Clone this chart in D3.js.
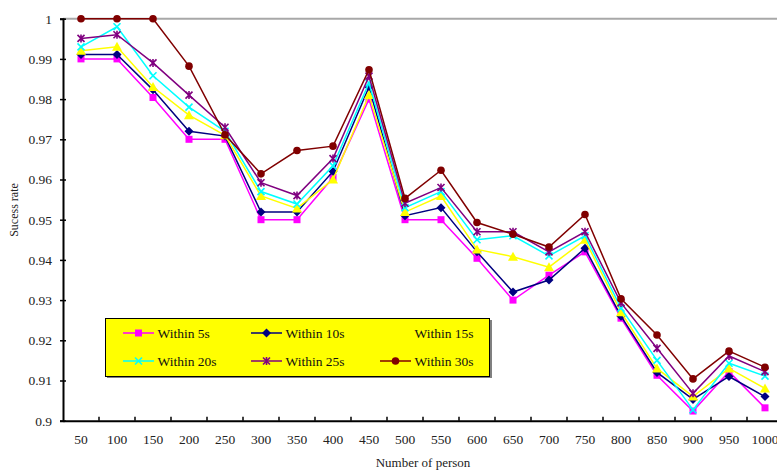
<!DOCTYPE html>
<html><head><meta charset="utf-8">
<script src="https://cdn.jsdelivr.net/npm/d3@7"></script>
<style>body{margin:0;background:#fff}svg{display:block}text{font-family:"Liberation Serif","Times New Roman",serif}</style>
</head><body><svg id="c" width="777" height="470"></svg>
<script>
const categories = [50,100,150,200,250,300,350,400,450,500,550,600,650,700,750,800,850,900,950,1000];
const yTicks = [0.9,0.91,0.92,0.93,0.94,0.95,0.96,0.97,0.98,0.99,1];
const seriesNames = ["Within 5s","Within 10s","Within 15s","Within 20s","Within 25s","Within 30s"];
const within5  = [0.990,0.990,0.9804,0.970,0.970,0.950,0.950,0.9605,0.980,0.950,0.950,0.9404,0.930,0.9362,0.942,0.9255,0.9113,0.9024,0.9122,0.9032];
const within10 = [0.9911,0.9911,0.9823,0.972,0.9708,0.9519,0.9519,0.962,0.983,0.951,0.953,0.942,0.932,0.935,0.9429,0.926,0.912,0.9053,0.911,0.906];
const within15 = [0.992,0.993,0.983,0.976,0.971,0.9559,0.9528,0.960,0.981,0.9519,0.9559,0.9426,0.9408,0.9382,0.945,0.927,0.913,0.906,0.913,0.908];
const within20 = [0.993,0.998,0.9858,0.978,0.972,0.957,0.9539,0.9634,0.984,0.953,0.957,0.945,0.946,0.941,0.946,0.928,0.915,0.9027,0.9143,0.9111];
const within25 = [0.9951,0.996,0.989,0.981,0.973,0.9592,0.956,0.9652,0.9857,0.9541,0.958,0.947,0.947,0.942,0.947,0.9293,0.918,0.9068,0.9161,0.9122];
const within30 = [1,1,1,0.9882,0.9711,0.9614,0.9672,0.9683,0.9873,0.9553,0.9623,0.9493,0.9464,0.9432,0.9513,0.9303,0.9213,0.9104,0.9173,0.9133];
const seriesValues = [within5,within10,within15,within20,within25,within30];
const colors = ["#FF00FF","#000080","#FFFF00","#00FFFF","#800080","#800000"];
const markers = ["square","diamond","triangle","x","star","circle"];

const svg = d3.select("#c");
const L = 63, T = 18.7, B = 420.7, R = 783;
const x = d3.scaleBand().domain(categories).range([L, R]);
const y = d3.scaleLinear().domain([0.9, 1]).range([B, T]);

// top gridline
svg.append("line").attr("x1", L).attr("x2", 777).attr("y1", y(1)).attr("y2", y(1))
  .attr("stroke", "#a8a8a8").attr("stroke-width", 2);

// y axis
const ya = svg.append("g").attr("transform", `translate(${L},0)`)
  .call(d3.axisLeft(y).tickValues(yTicks).tickSize(3).tickPadding(8).tickFormat(d => d3.format("")(+d.toFixed(2))));
ya.select(".domain").attr("stroke", "#000").attr("stroke-width", 2);
ya.selectAll(".tick line").attr("stroke", "#000").attr("stroke-width", 1.5).attr("x2", 3).attr("x1", -3);
ya.selectAll("text").attr("font-size", 13.5).attr("fill", "#222").attr("font-family", "Liberation Serif");

// x axis
const xa = svg.append("g").attr("transform", `translate(0,${B})`)
  .call(d3.axisBottom(x).tickSize(0).tickPadding(14));
xa.select(".domain").attr("stroke", "#000").attr("stroke-width", 2);
xa.selectAll("text").attr("font-size", 13.5).attr("fill", "#222").attr("font-family", "Liberation Serif");
const bw = x.bandwidth();
xa.selectAll(".sep").data(categories.slice(1)).enter().append("line")
  .attr("x1", d => x(d)).attr("x2", d => x(d)).attr("y1", 0).attr("y2", -4)
  .attr("stroke", "#000").attr("stroke-width", 1.5);

// titles
svg.append("text").attr("x", 423).attr("y", 467).attr("text-anchor", "middle")
  .attr("font-size", 13).attr("fill", "#222").text("Number of person");
svg.append("text").attr("transform", "translate(18,210) rotate(-90)").attr("text-anchor", "middle")
  .attr("font-size", 12).attr("fill", "#222").text("Sucess rate");

function drawMarker(g, type, color) {
  if (type === "square") g.append("rect").attr("x", -3.5).attr("y", -3.5).attr("width", 7).attr("height", 7).attr("fill", color);
  else if (type === "diamond") g.append("path").attr("d", "M0,-4.5L4.5,0L0,4.5L-4.5,0Z").attr("fill", color);
  else if (type === "triangle") g.append("path").attr("d", "M0,-5L5,4L-5,4Z").attr("fill", color);
  else if (type === "circle") g.append("circle").attr("r", 3.8).attr("fill", color);
  else if (type === "x") g.append("path").attr("d", "M-3.5,-3.5L3.5,3.5M-3.5,3.5L3.5,-3.5").attr("stroke", color).attr("stroke-width", 1.6);
  else if (type === "star") g.append("path").attr("d", "M-3.5,-3.5L3.5,3.5M-3.5,3.5L3.5,-3.5M0,-4L0,4").attr("stroke", color).attr("stroke-width", 1.6);
}

const cx = d => x(d) + bw / 2;
const line = d3.line().x((v, i) => cx(categories[i])).y(v => y(v));
seriesValues.forEach((vals, s) => {
  const g = svg.append("g");
  g.append("path").attr("d", line(vals)).attr("fill", "none").attr("stroke", colors[s]).attr("stroke-width", 1.5);
  vals.forEach((v, i) => {
    const m = g.append("g").attr("transform", `translate(${cx(categories[i])},${y(v)})`);
    drawMarker(m, markers[s], colors[s]);
  });
});

// legend
const lg = svg.append("g");
lg.append("rect").attr("x", 107).attr("y", 320).attr("width", 385).attr("height", 58).attr("fill", "#808080");
lg.append("rect").attr("x", 105.5).attr("y", 318.5).attr("width", 384).attr("height", 58).attr("fill", "#FFFF00").attr("stroke", "#000").attr("stroke-width", 1);
const colX = [123, 251, 380], rowY = [333, 361];
seriesNames.forEach((name, s) => {
  const cxl = colX[s % 3], cyl = rowY[Math.floor(s / 3)];
  const g = lg.append("g");
  g.append("line").attr("x1", cxl).attr("x2", cxl + 31).attr("y1", cyl).attr("y2", cyl).attr("stroke", colors[s]).attr("stroke-width", 1.5);
  const m = g.append("g").attr("transform", `translate(${cxl + 15.5},${cyl})`);
  drawMarker(m, markers[s], colors[s]);
  g.append("text").attr("x", cxl + 34.5).attr("y", cyl + 4.5).attr("font-size", 13.5).attr("fill", "#111").text(name);
});
</script></body></html>
